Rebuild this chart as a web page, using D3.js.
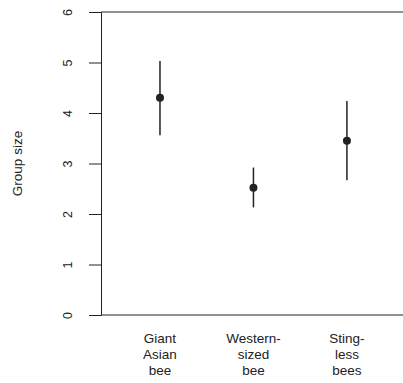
<!DOCTYPE html>
<html>
<head>
<meta charset="utf-8">
<script src="https://cdn.jsdelivr.net/npm/d3@7"></script>
<style>
  body { margin: 0; background: #fff; }
  text { font-family: "Liberation Sans", Arial, sans-serif; fill: #222; }
</style>
</head>
<body>
<div id="chart"></div>
<script>
// data
const groups = [["Giant", "Asian", "bee"], ["Western-", "sized", "bee"], ["Sting-", "less", "bees"]]
const means = [4.30, 2.52, 3.45]
const lower = [3.56, 2.13, 2.67]
const upper = [5.03, 2.92, 4.24]
const yTicks = [0, 1, 2, 3, 4, 5, 6]

const W = 403, H = 383
const M = {left: 101, right: 0, top: 12, bottom: 68}

const svg = d3.select("#chart").append("svg")
  .attr("width", W)
  .attr("height", H)

const x = d3.scaleLinear()
  .domain([0.369, 3.6])
  .range([M.left, W - M.right])

const y = d3.scaleLinear()
  .domain([0, 6])
  .range([H - M.bottom, M.top])

// frame: left, top and bottom lines (right side runs off the image)
const ink = "#222"
svg.append("line")
  .attr("x1", M.left).attr("x2", W)
  .attr("y1", y(6)).attr("y2", y(6))
  .attr("stroke", ink)
svg.append("line")
  .attr("x1", M.left).attr("x2", W)
  .attr("y1", y(0)).attr("y2", y(0))
  .attr("stroke", ink)

const yAxis = svg.append("g")
  .attr("transform", `translate(${M.left},0)`)
  .call(d3.axisLeft(y).tickValues(yTicks).tickSize(12).tickFormat(d3.format("d")))
yAxis.select(".domain").attr("stroke", ink)
yAxis.selectAll(".tick line").attr("stroke", ink)
yAxis.selectAll(".tick text")
  .attr("font-size", 12.5)
  .attr("font-family", null)
  .attr("x", null).attr("dy", null)
  .attr("text-anchor", "middle")
  .attr("transform", "translate(-29,0) rotate(-90)")

svg.append("text")
  .text("Group size")
  .attr("font-size", 13.5)
  .attr("text-anchor", "middle")
  .attr("transform", `translate(22,${(y(0) + y(6)) / 2}) rotate(-90)`)

// error bars and means
const idx = d3.range(means.length)
svg.selectAll("line.err")
  .data(idx).enter()
  .append("line")
  .classed("err", true)
  .attr("x1", (i) => x(i + 1))
  .attr("x2", (i) => x(i + 1))
  .attr("y1", (i) => y(lower[i]))
  .attr("y2", (i) => y(upper[i]))
  .attr("stroke", ink)
  .attr("stroke-width", 1.5)

svg.selectAll("circle.mean")
  .data(idx).enter()
  .append("circle")
  .classed("mean", true)
  .attr("cx", (i) => x(i + 1))
  .attr("cy", (i) => y(means[i]))
  .attr("r", 4)
  .attr("fill", ink)

// category labels, three lines each
const labels = svg.selectAll("text.cat")
  .data(idx).enter()
  .append("text")
  .classed("cat", true)
  .attr("font-size", 13.5)
  .attr("text-anchor", "middle")
labels.selectAll("tspan")
  .data((i) => groups[i].map((s) => ({s, i})))
  .enter()
  .append("tspan")
  .attr("x", (d) => x(d.i + 1))
  .attr("y", (d, j) => y(0) + 28 + j * 16)
  .text((d) => d.s)
</script>
</body>
</html>
